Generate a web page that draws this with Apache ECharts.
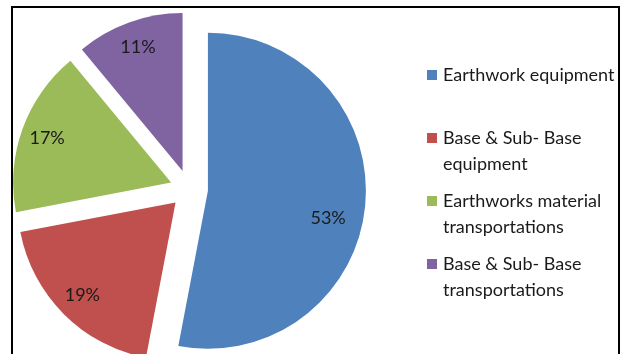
<!DOCTYPE html>
<html>
<head>
<meta charset="utf-8">
<script src="https://cdn.jsdelivr.net/npm/echarts@6/dist/echarts.min.js"></script>
<style>
html,body{margin:0;padding:0;background:#fff;}
#chart{width:622px;height:354px;}
</style>
</head>
<body>
<div id="chart"></div>
<script>
// Data
var categories = ['Earthwork equipment', 'Base & Sub- Base equipment', 'Earthworks material transportations', 'Base & Sub- Base transportations'];
var legendLines = [['Earthwork equipment', ' '], ['Base & Sub- Base', 'equipment'], ['Earthworks material', 'transportations'], ['Base & Sub- Base', 'transportations']];
var values = [53, 19, 17, 11];
var palette = ['#4F81BD', '#C0504D', '#9BBB59', '#8064A2'];

var FONT = 'Lato';
var chart = echarts.init(document.getElementById('chart'), null, {renderer: 'canvas'});

function pieData(transparent) {
  return categories.map(function (c, i) {
    return {name: c, value: values[i], selected: true, itemStyle: {color: transparent ? 'rgba(0,0,0,0)' : palette[i]}};
  });
}

var rich = {
  g: {width: 6},
  g2: {width: 16},
  t: {fontFamily: FONT, fontSize: 18, color: '#1a1a1a', lineHeight: 26}
};
palette.forEach(function (col, i) {
  rich['m' + i] = {width: 10, height: 10, backgroundColor: col};
});

var CENTER = [189, 189];
var R = 158;

var option = {
  animation: false,
  backgroundColor: '#fff',
  graphic: [{
    type: 'rect',
    shape: {x: 12, y: 7, width: 607, height: 420},
    style: {fill: 'none', stroke: '#000', lineWidth: 2},
    silent: true,
    z: 100
  }],
  legend: {
    orient: 'vertical',
    left: 422,
    top: 62,
    padding: 0,
    itemWidth: 0,
    itemHeight: 0,
    itemGap: 11,
    selectedMode: false,
    data: categories,
    formatter: function (name) {
      var i = categories.indexOf(name);
      var l = legendLines[i];
      return '{m' + i + '|}{g|}{t|' + l[0] + '}\n{g2|}{t|' + l[1] + '}';
    },
    textStyle: {rich: rich, fontFamily: FONT, fontSize: 18, lineHeight: 26, padding: 0}
  },
  series: [{
    type: 'pie',
    center: CENTER,
    radius: [0, R],
    startAngle: 90,
    clockwise: true,
    selectedMode: 'multiple',
    selectedOffset: 19,
    silent: true,
    label: {show: false},
    labelLine: {show: false},
    emphasis: {disabled: true},
    select: {itemStyle: {borderWidth: 0}},
    itemStyle: {borderWidth: 0},
    data: pieData(false)
  }, {
    type: 'pie',
    center: CENTER,
    radius: [R * 0.63, R],
    startAngle: 90,
    clockwise: true,
    selectedMode: 'multiple',
    selectedOffset: 19,
    silent: true,
    legendHoverLink: false,
    label: {
      show: true,
      position: 'inside',
      formatter: '{c}%',
      fontFamily: FONT,
      fontSize: 18,
      color: '#1a1a1a'
    },
    labelLayout: function (params) {
      // Excel places the large slice's label a bit lower than the bisector
      return params.dataIndex === 0 ? {dx: -11, dy: 15} : {};
    },
    labelLine: {show: false},
    emphasis: {disabled: true},
    select: {itemStyle: {borderWidth: 0}},
    data: pieData(true)
  }]
};
chart.setOption(option);
</script>
</body>
</html>
